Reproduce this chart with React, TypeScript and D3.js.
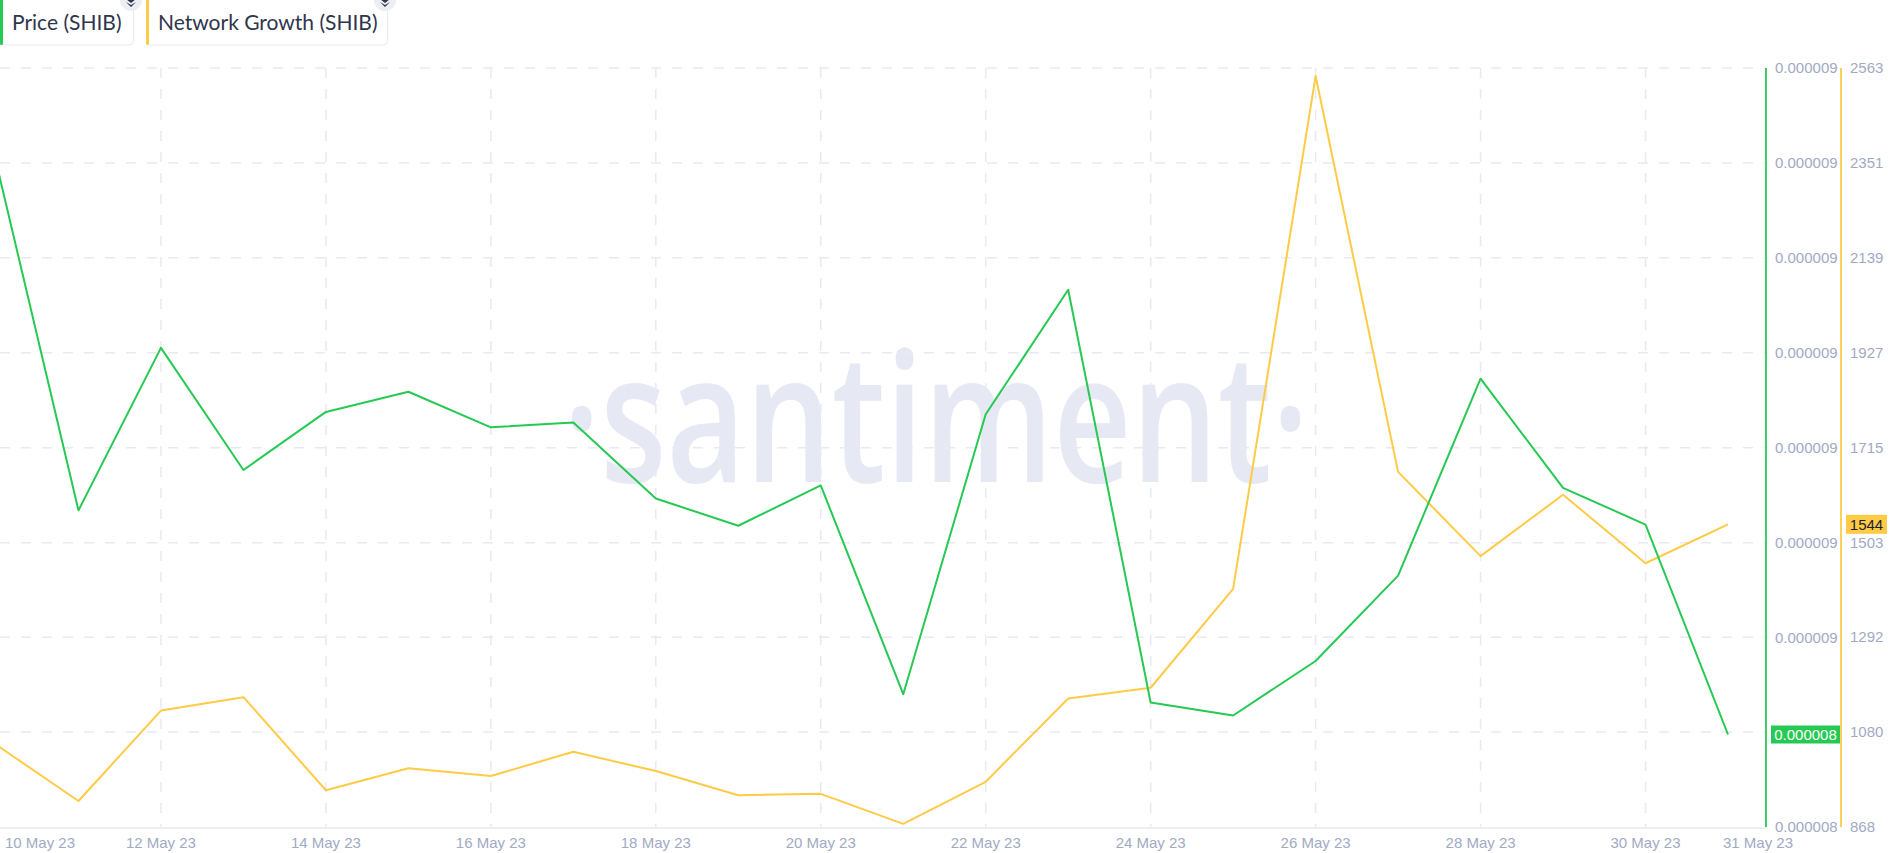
import React from "react";
import * as d3 from "d3";

const dates = [
  "2023-05-10", "2023-05-11", "2023-05-12", "2023-05-13", "2023-05-14", "2023-05-15",
  "2023-05-16", "2023-05-17", "2023-05-18", "2023-05-19", "2023-05-20", "2023-05-21",
  "2023-05-22", "2023-05-23", "2023-05-24", "2023-05-25", "2023-05-26", "2023-05-27",
  "2023-05-28", "2023-05-29", "2023-05-30", "2023-05-31",
];

const priceShib = [
  0.000008961, 0.000008667, 0.000008804, 0.000008701, 0.00000875, 0.000008767,
  0.000008737, 0.000008741, 0.000008677, 0.000008654, 0.000008688, 0.000008512,
  0.000008748, 0.000008853, 0.000008505, 0.000008494, 0.00000854, 0.000008612,
  0.000008778, 0.000008686, 0.000008655, 0.000008478,
];

const networkGrowth = [
  1052, 926, 1128, 1158, 950, 999, 982, 1036, 993, 939, 942, 875, 969, 1155, 1179,
  1400, 2545, 1661, 1473, 1610, 1457, 1544,
];

const netTicks = [868, 1080, 1292, 1503, 1715, 1927, 2139, 2351, 2563];
const priceTicks = [
  0.0000084, 0.00000848, 0.00000856, 0.00000864, 0.00000872, 0.0000088, 0.00000888,
  0.00000896, 0.00000904,
];
const xTickDates = [
  "2023-05-10", "2023-05-12", "2023-05-14", "2023-05-16", "2023-05-18", "2023-05-20",
  "2023-05-22", "2023-05-24", "2023-05-26", "2023-05-28", "2023-05-30", "2023-05-31",
];
const legendItems = ["Price (SHIB)", "Network Growth (SHIB)"];

const GREEN = "#26c953";
const YELLOW = "#ffcb47";
const GRID = "#e7eaf3";
const LABEL = "#9faac4";
const W = 1891;
const H = 853;

export default function App() {
  const parse = d3.utcParse("%Y-%m-%d");
  const dd = dates.map((s) => parse(s)!);
  const top = 68;
  const bottom = 827;
  const x = d3.scaleUtc().domain([dd[0], dd[dd.length - 1]]).range([-4, 1728]);
  const yNet = d3.scaleLinear().domain([868, 2563]).range([bottom, top]);
  const yPrice = d3.scaleLinear().domain([0.0000084, 0.00000904]).range([bottom, top]);
  const gridRight = 1766;
  const fmtDate = d3.utcFormat("%-d %b %y");

  const priceLine = d3
    .line<number>()
    .x((_, i) => x(dd[i]))
    .y((d) => yPrice(d))(priceShib)!;
  const netLine = d3
    .line<number>()
    .x((_, i) => x(dd[i]))
    .y((d) => yNet(d))(networkGrowth)!;

  const lastPrice = priceShib[priceShib.length - 1];
  const lastNet = networkGrowth[networkGrowth.length - 1];
  const font = "'Liberation Sans', Arial, sans-serif";

  const legendBoxes = [
    { x0: 0, x1: 133, color: GREEN },
    { x0: 146, x1: 387, color: YELLOW },
  ];

  return (
    <svg
      width={W}
      height={H}
      style={{ position: "absolute", left: 0, top: 0, background: "#fff" }}
    >
      <defs>
        <clipPath id="plot">
          <rect x={0} y={0} width={gridRight} height={H} />
        </clipPath>
      </defs>
      {/* watermark */}
      <text
        x={936}
        y={482}
        textAnchor="middle"
        fontFamily="'Open Sans', sans-serif"
        fontSize={180}
        fontWeight={600}
        fill="#e6e9f3"
        textLength={746}
        lengthAdjust="spacingAndGlyphs"
      >
        ·santiment·
      </text>

      {/* horizontal grid */}
      {netTicks.map((t, i) =>
        i === 0 ? null : (
          <line
            key={"h" + t}
            x1={0}
            x2={gridRight}
            y1={yNet(t)}
            y2={yNet(t)}
            stroke={GRID}
            strokeWidth={1.5}
            strokeDasharray="10 11"
          />
        )
      )}
      {/* vertical grid */}
      {xTickDates.slice(0, -1).map((s) => {
        const xx = x(parse(s)!);
        return (
          <line
            key={"v" + s}
            x1={xx}
            x2={xx}
            y1={top}
            y2={bottom}
            stroke={GRID}
            strokeWidth={1.5}
            strokeDasharray="10 11"
          />
        );
      })}
      {/* bottom axis line */}
      <line x1={0} x2={gridRight} y1={bottom + 1} y2={bottom + 1} stroke={GRID} strokeWidth={1.5} />

      {/* series */}
      <g clipPath="url(#plot)">
        <path d={netLine} fill="none" stroke={YELLOW} strokeWidth={2} strokeLinejoin="round" />
        <path d={priceLine} fill="none" stroke={GREEN} strokeWidth={2} strokeLinejoin="round" />
      </g>

      {/* right axes */}
      <line x1={1766} x2={1766} y1={top} y2={bottom} stroke={GREEN} strokeWidth={1.8} />
      <line x1={1841} x2={1841} y1={top} y2={bottom} stroke={YELLOW} strokeWidth={1.8} />
      {priceTicks.map((t) => (
        <text
          key={"p" + t}
          x={1775}
          y={yPrice(t)}
          dy="0.35em"
          fontFamily={font}
          fontSize={15}
          fill={LABEL}
        >
          {t.toFixed(6)}
        </text>
      ))}
      {netTicks.map((t) => (
        <text
          key={"n" + t}
          x={1850}
          y={yNet(t)}
          dy="0.35em"
          fontFamily={font}
          fontSize={15}
          fill={LABEL}
        >
          {t}
        </text>
      ))}

      {/* last value badges */}
      <rect x={1771} y={yPrice(lastPrice) - 9} width={69} height={18} fill={GREEN} />
      <text
        x={1805.5}
        y={yPrice(lastPrice)}
        dy="0.35em"
        textAnchor="middle"
        fontFamily={font}
        fontSize={15}
        fill="#fff"
      >
        {lastPrice.toFixed(6)}
      </text>
      <rect x={1846} y={yNet(lastNet) - 9.5} width={41} height={19} fill={YELLOW} />
      <text
        x={1866.5}
        y={yNet(lastNet)}
        dy="0.35em"
        textAnchor="middle"
        fontFamily={font}
        fontSize={15}
        fill="#1c1f2b"
      >
        {lastNet}
      </text>

      {/* x-axis labels */}
      {xTickDates.map((s, i) => {
        const xx = x(parse(s)!);
        let anchor: "start" | "middle" = "middle";
        let px = xx;
        if (i === 0) {
          anchor = "start";
          px = Math.max(xx - 35, 5);
        } else if (i === xTickDates.length - 1) {
          px = xx + 30;
        }
        return (
          <text
            key={"x" + s}
            x={px}
            y={848}
            textAnchor={anchor}
            fontFamily={font}
            fontSize={15}
            fill={LABEL}
          >
            {fmtDate(parse(s)!)}
          </text>
        );
      })}

      {/* legend */}
      {legendBoxes.map((b, i) => (
        <g key={"l" + i}>
          <rect
            x={b.x0 + 0.5}
            y={-10}
            width={b.x1 - b.x0}
            height={55}
            rx={4}
            fill="#fff"
            stroke={GRID}
            strokeWidth={1}
          />
          <rect x={b.x0} y={-10} width={3} height={55} rx={1.5} fill={b.color} />
          <text
            x={b.x0 + 12}
            y={30}
            fontFamily="Lato, sans-serif"
            fontSize={21}
            fill="#2f354d"
          >
            {legendItems[i]}
          </text>
          <circle cx={b.x1 - 2} cy={0} r={11} fill="#eceef3" />
          <path
            d={`M${b.x1 - 7},-1 L${b.x1 - 2},-5 L${b.x1 + 3},-1 L${b.x1 - 2},3 Z M${b.x1 - 7},2 L${b.x1 - 2},7 L${b.x1 + 3},2 L${b.x1 - 2},5 Z`}
            fill="#2f354d"
          />
        </g>
      ))}
    </svg>
  );
}
